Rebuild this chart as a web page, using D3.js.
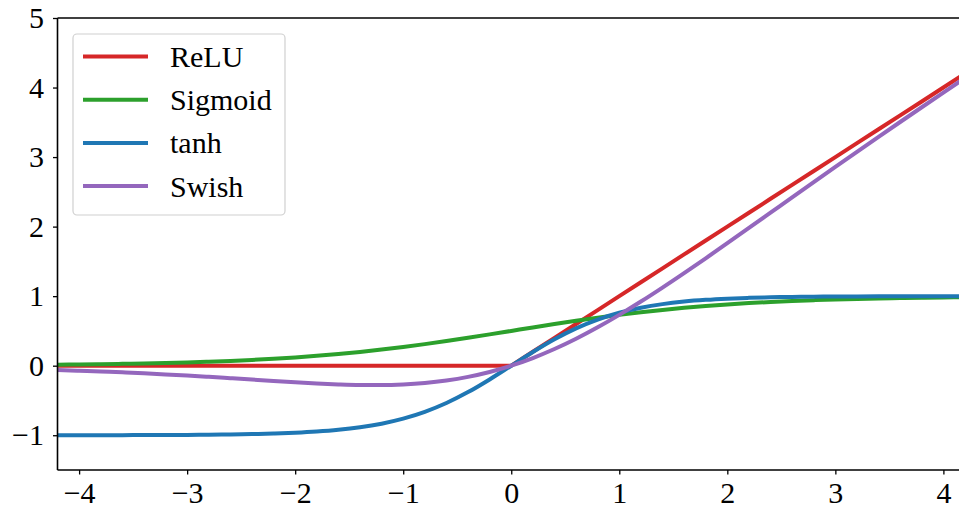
<!DOCTYPE html>
<html>
<head>
<meta charset="utf-8">
<script src="https://cdn.jsdelivr.net/npm/d3@7"></script>
<style>
  html, body { margin: 0; padding: 0; background: #fff; overflow: hidden; }
  svg { display: block; }
</style>
</head>
<body>
<svg id="chart" width="959" height="509"></svg>
<script>
// Sample positions along the input axis
const xs = [-4.2, -4.0, -3.8, -3.6, -3.4, -3.2, -3.0, -2.8, -2.6, -2.4, -2.2, -2.0,
  -1.8, -1.6, -1.4, -1.2, -1.0, -0.8, -0.6, -0.4, -0.2, 0.0,
  0.2, 0.4, 0.6, 0.8, 1.0, 1.2, 1.4, 1.6, 1.8, 2.0, 2.2, 2.4, 2.6, 2.8, 3.0,
  3.2, 3.4, 3.6, 3.8, 4.0, 4.2];

const reluValues = [0, 0, 0, 0, 0, 0, 0, 0, 0, 0, 0, 0,
  0, 0, 0, 0, 0, 0, 0, 0, 0, 0,
  0.2, 0.4, 0.6, 0.8, 1.0, 1.2, 1.4, 1.6, 1.8, 2.0, 2.2, 2.4, 2.6, 2.8, 3.0,
  3.2, 3.4, 3.6, 3.8, 4.0, 4.2];

const sigmoidValues = [0.0148, 0.0180, 0.0219, 0.0266, 0.0323, 0.0392, 0.0474, 0.0573, 0.0691, 0.0832, 0.0998, 0.1192,
  0.1419, 0.1680, 0.1978, 0.2315, 0.2689, 0.3100, 0.3543, 0.4013, 0.4502, 0.5,
  0.5498, 0.5987, 0.6457, 0.6900, 0.7311, 0.7685, 0.8022, 0.8320, 0.8581, 0.8808, 0.9002, 0.9168, 0.9309, 0.9427, 0.9526,
  0.9608, 0.9677, 0.9734, 0.9781, 0.9820, 0.9852];

const tanhValues = [-0.9996, -0.9993, -0.9990, -0.9985, -0.9978, -0.9967, -0.9951, -0.9926, -0.9890, -0.9837, -0.9757, -0.9640,
  -0.9468, -0.9217, -0.8854, -0.8337, -0.7616, -0.6640, -0.5370, -0.3799, -0.1974, 0,
  0.1974, 0.3799, 0.5370, 0.6640, 0.7616, 0.8337, 0.8854, 0.9217, 0.9468, 0.9640, 0.9757, 0.9837, 0.9890, 0.9926, 0.9951,
  0.9967, 0.9978, 0.9985, 0.9990, 0.9993, 0.9996];

const swishValues = [-0.0622, -0.0719, -0.0832, -0.0958, -0.1098, -0.1254, -0.1423, -0.1604, -0.1797, -0.1997, -0.2196, -0.2384,
  -0.2554, -0.2688, -0.2769, -0.2778, -0.2689, -0.2480, -0.2126, -0.1605, -0.0900, 0,
  0.1100, 0.2395, 0.3874, 0.5520, 0.7311, 0.9222, 1.1231, 1.3312, 1.5446, 1.7616, 1.9804, 2.2003, 2.4203, 2.6396, 2.8577,
  3.0746, 3.2902, 3.5042, 3.7168, 3.9281, 4.1378];

const seriesNames = ["ReLU", "Sigmoid", "tanh", "Swish"];
const seriesColors = ["#d62728", "#2ca02c", "#1f77b4", "#9467bd"];
const seriesData = [reluValues, sigmoidValues, tanhValues, swishValues];

const xTicks = [-4, -3, -2, -1, 0, 1, 2, 3, 4];
const yTicks = [-1, 0, 1, 2, 3, 4, 5];

const FONT = "Liberation Serif";
const FONT_SIZE = 30;

const svg = d3.select("#chart");

// Plot area (the right side runs past the window edge)
const plotLeft = 57.5, plotRight = 965, plotTop = 18, plotBottom = 470;

const x = d3.scaleLinear().domain([-4.2, 4.2]).range([plotLeft, plotRight]);
const y = d3.scaleLinear().domain([-1.5, 5]).range([plotBottom, plotTop]);

const fmt = d => d < 0 ? "\u2212" + Math.abs(d) : String(d);

// Curves (ReLU is piecewise linear, the others are smooth)
const lineGen = (vals, smooth) => d3.line()
  .x((d, i) => x(xs[i]))
  .y(d => y(d))
  .curve(smooth ? d3.curveMonotoneX : d3.curveLinear)(vals);

const plot = svg.append("g");
seriesData.forEach((vals, k) => {
  plot.append("path")
    .attr("d", lineGen(vals, k !== 0))
    .attr("fill", "none")
    .attr("stroke", seriesColors[k])
    .attr("stroke-width", 4)
    .attr("stroke-linejoin", "round")
    .attr("stroke-linecap", "butt");
});

// Axes
const xAxis = svg.append("g")
  .attr("transform", `translate(0,${plotBottom})`)
  .call(d3.axisBottom(x).tickValues(xTicks).tickFormat(fmt).tickSize(4.5).tickPadding(7.5));
const yAxis = svg.append("g")
  .attr("transform", `translate(${plotLeft},0)`)
  .call(d3.axisLeft(y).tickValues(yTicks).tickFormat(fmt).tickSize(4.5).tickPadding(9));

[xAxis, yAxis].forEach(g => {
  g.attr("font-family", FONT).attr("font-size", FONT_SIZE);
  g.select(".domain").remove();
  g.selectAll(".tick line").attr("stroke", "#000").attr("stroke-width", 1.3);
  g.selectAll(".tick text").attr("fill", "#000");
});

// Spines: left, bottom, top
svg.append("line").attr("x1", plotLeft).attr("x2", plotLeft).attr("y1", plotTop).attr("y2", plotBottom)
  .attr("stroke", "#000").attr("stroke-width", 1.6);
svg.append("line").attr("x1", plotLeft).attr("x2", plotRight).attr("y1", plotBottom).attr("y2", plotBottom)
  .attr("stroke", "#000").attr("stroke-width", 1.6);
svg.append("line").attr("x1", plotLeft).attr("x2", plotRight).attr("y1", plotTop).attr("y2", plotTop)
  .attr("stroke", "#000").attr("stroke-width", 1.6);

// Legend
const legend = svg.append("g").attr("font-family", FONT).attr("font-size", FONT_SIZE);
legend.append("rect")
  .attr("x", 73).attr("y", 34).attr("width", 212).attr("height", 181)
  .attr("rx", 4).attr("ry", 4)
  .attr("fill", "#fff").attr("fill-opacity", 0.8)
  .attr("stroke", "#d0d0d0").attr("stroke-width", 1.2);

seriesNames.forEach((name, k) => {
  const cy = 56.5 + k * 43.2;
  legend.append("line")
    .attr("x1", 83).attr("x2", 148).attr("y1", cy).attr("y2", cy)
    .attr("stroke", seriesColors[k]).attr("stroke-width", 4);
  legend.append("text")
    .attr("x", 170).attr("y", cy)
    .attr("dy", "0.35em")
    .attr("fill", "#000")
    .text(name);
});
</script>
</body>
</html>
